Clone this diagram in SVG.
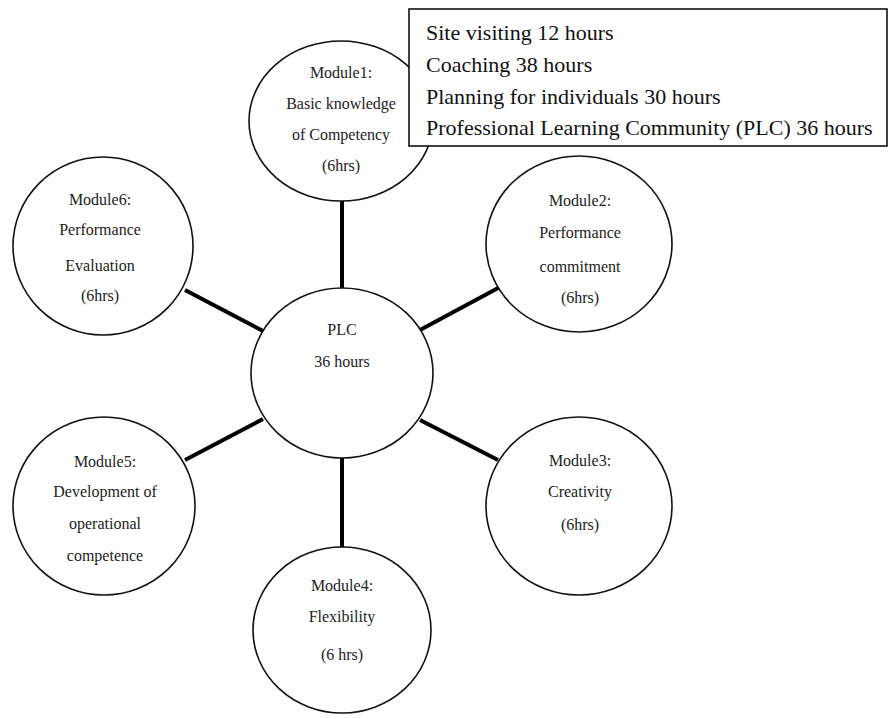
<svg xmlns="http://www.w3.org/2000/svg" width="889" height="719" viewBox="0 0 889 719">
<style>
.node{fill:#fff;stroke:#111;stroke-width:1.6}
.t{font-family:'Liberation Serif',serif;font-size:16px;fill:#222;text-anchor:middle}
.bt{font-family:'Liberation Serif',serif;font-size:22px;fill:#111}
.c{stroke:#000;stroke-width:4;fill:none}
</style>
<rect width="889" height="719" fill="#fff"/>
<g id="connectors">
<line class="c" x1="342" y1="199" x2="342" y2="289"/>
<line class="c" x1="185" y1="290" x2="263" y2="331"/>
<line class="c" x1="500" y1="287" x2="420" y2="330"/>
<line class="c" x1="498" y1="460" x2="420" y2="420"/>
<line class="c" x1="185" y1="460" x2="263" y2="419"/>
<line class="c" x1="342" y1="457" x2="342" y2="548"/>
</g>
<g id="module1">
<ellipse class="node" cx="341" cy="121" rx="92" ry="80"/>
<text class="t" x="341" y="78">Module1:</text>
<text class="t" x="341" y="109">Basic knowledge</text>
<text class="t" x="341" y="140">of Competency</text>
<text class="t" x="341" y="171">(6hrs)</text>
</g>
<g id="plc">
<ellipse class="node" cx="342" cy="373" rx="91" ry="85"/>
<text class="t" x="342" y="335">PLC</text>
<text class="t" x="342" y="367">36 hours</text>
</g>
<g id="module2">
<ellipse class="node" cx="579" cy="244" rx="93" ry="88"/>
<text class="t" x="580" y="206">Module2:</text>
<text class="t" x="580" y="238">Performance</text>
<text class="t" x="580" y="272">commitment</text>
<text class="t" x="580" y="303">(6hrs)</text>
</g>
<g id="module3">
<ellipse class="node" cx="579" cy="506" rx="93" ry="89"/>
<text class="t" x="580" y="466">Module3:</text>
<text class="t" x="580" y="497">Creativity</text>
<text class="t" x="580" y="530">(6hrs)</text>
</g>
<g id="module4">
<ellipse class="node" cx="342" cy="630" rx="89" ry="83"/>
<text class="t" x="342" y="591">Module4:</text>
<text class="t" x="342" y="622">Flexibility</text>
<text class="t" x="342" y="660">(6 hrs)</text>
</g>
<g id="module5">
<ellipse class="node" cx="104" cy="506" rx="91" ry="89"/>
<text class="t" x="105" y="467">Module5:</text>
<text class="t" x="105" y="497">Development of</text>
<text class="t" x="105" y="529">operational</text>
<text class="t" x="105" y="561">competence</text>
</g>
<g id="module6">
<ellipse class="node" cx="103" cy="246" rx="90" ry="89"/>
<text class="t" x="100" y="205">Module6:</text>
<text class="t" x="100" y="235">Performance</text>
<text class="t" x="100" y="271">Evaluation</text>
<text class="t" x="100" y="301">(6hrs)</text>
</g>
<g id="hours-box">
<rect x="409" y="9" width="478" height="137" fill="#fff" stroke="#111" stroke-width="1.6"/>
<text class="bt" x="426" y="40">Site visiting 12 hours</text>
<text class="bt" x="426" y="72">Coaching 38 hours</text>
<text class="bt" x="426" y="104">Planning for individuals 30 hours</text>
<text class="bt" x="426" y="135">Professional Learning Community (PLC) 36 hours</text>
</g>
</svg>
